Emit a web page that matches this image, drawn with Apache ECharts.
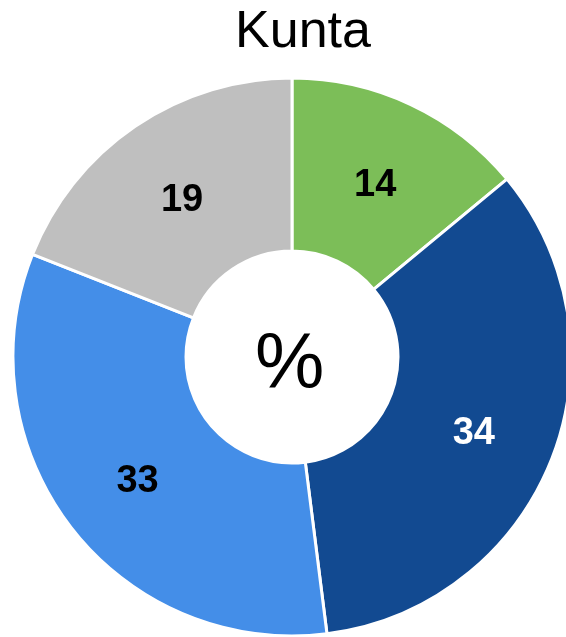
<!DOCTYPE html>
<html>
<head>
<meta charset="utf-8">
<script src="https://cdn.jsdelivr.net/npm/echarts@6/dist/echarts.min.js"></script>
<style>
html,body{margin:0;padding:0;background:#fff;}
#chart{width:566px;height:637px;}
</style>
</head>
<body>
<div id="chart"></div>
<script>
const titleText = 'Kunta';
const centerText = '%';
const categories = ['A', 'B', 'C', 'D'];
const values = [14, 34, 33, 19];
const colors = ['#7CBE58', '#124A91', '#448EE8', '#BFBFBF'];
const labelColors = ['#000000', '#ffffff', '#000000', '#000000'];

const chart = echarts.init(document.getElementById('chart'), null, {renderer: 'canvas'});
chart.setOption({
  animation: false,
  title: {
    text: titleText,
    left: 298, top: 2,
    textAlign: 'center',
    textStyle: {fontFamily: 'Liberation Sans, Arial, sans-serif', fontSize: 52, fontWeight: 'normal', color: '#000'}
  },
  graphic: [{
    type: 'text',
    left: 255, top: 327,
    style: {
      text: centerText,
      fontFamily: 'Liberation Sans, Arial, sans-serif',
      fontSize: 78,
      fill: '#000'
    }
  }],
  series: [{
    type: 'pie',
    center: [292, 357],
    radius: [106, 279],
    startAngle: 90,
    clockwise: true,
    silent: true,
    itemStyle: {borderColor: '#ffffff', borderWidth: 3},
    label: {
      show: true,
      position: 'inside',
      formatter: '{c}',
      fontFamily: 'Liberation Sans, Arial, sans-serif',
      fontSize: 38,
      fontWeight: 'bold'
    },
    labelLayout: {dy: 5},
    labelLine: {show: false},
    data: categories.map((c, i) => ({
      name: c,
      value: values[i],
      itemStyle: {color: colors[i]},
      label: {color: labelColors[i]}
    }))
  }]
});
</script>
</body>
</html>
